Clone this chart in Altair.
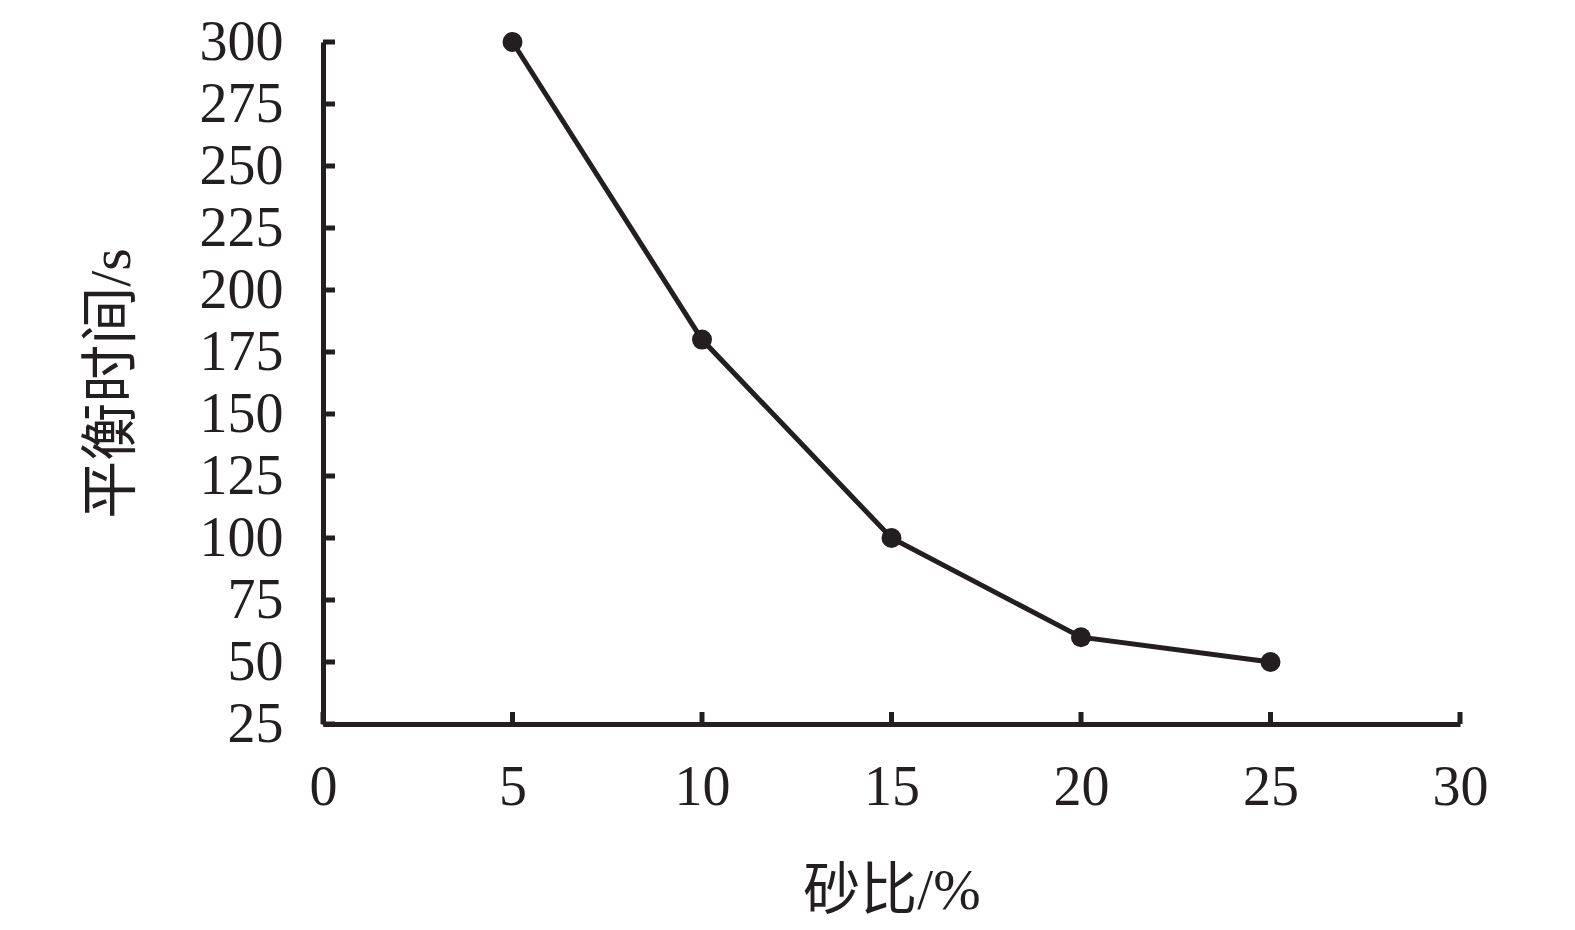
import altair as alt
import pandas as pd

sand_ratio = [5, 10, 15, 20, 25]
balance_time = [300, 180, 100, 60, 50]
x_ticks = [0, 5, 10, 15, 20, 25, 30]
y_ticks = [25, 50, 75, 100, 125, 150, 175, 200, 225, 250, 275, 300]

INK = "#231f20"
W, H = 1137, 682
FONT = "Liberation Serif, Noto Sans CJK SC"

df = pd.DataFrame({"x": sand_ratio, "y": balance_time})
xt = pd.DataFrame({"x": x_ticks})
yt = pd.DataFrame({"y": y_ticks})

xscale = alt.Scale(domain=[0, 30], nice=False, zero=False)
yscale = alt.Scale(domain=[25, 300], nice=False, zero=False)

xaxis = alt.Axis(values=x_ticks, title="砂比/%", ticks=False, tickSize=0, grid=False,
                 labelFlush=False, domainColor=INK, domainWidth=5, labelFont=FONT,
                 labelFontSize=56, labelColor=INK, labelPadding=36, titleFont=FONT,
                 titleFontSize=57, titleFontWeight="normal", titleColor=INK, titlePadding=48)
yaxis = alt.Axis(values=y_ticks, title="平衡时间/s", ticks=False, tickSize=0, grid=False,
                 labelFlush=False, domainColor=INK, domainWidth=5, labelFont=FONT,
                 labelFontSize=56, labelColor=INK, labelPadding=40, titleFont=FONT,
                 titleFontSize=58, titleFontWeight="normal", titleColor=INK, titlePadding=58)

line = alt.Chart(df).mark_line(color=INK, strokeWidth=5).encode(
    x=alt.X("x:Q", scale=xscale, axis=xaxis),
    y=alt.Y("y:Q", scale=yscale, axis=yaxis),
)
pts = alt.Chart(df).mark_point(filled=True, color=INK, size=400, opacity=1).encode(
    x=alt.X("x:Q", scale=xscale), y=alt.Y("y:Q", scale=yscale)
)
xtick = alt.Chart(xt).mark_rule(color=INK, strokeWidth=5).encode(
    x=alt.X("x:Q", scale=xscale), y=alt.value(H), y2=alt.value(H - 12)
)
ytick = alt.Chart(yt).mark_rule(color=INK, strokeWidth=5).encode(
    y=alt.Y("y:Q", scale=yscale), x=alt.value(0), x2=alt.value(12)
)

chart = alt.layer(xtick, ytick, line, pts).properties(
    width=W, height=H,
    background="white",
    autosize=alt.AutoSizeParams(type="none"),
    padding={"left": 315, "top": 34, "right": 100, "bottom": 198},
).configure_view(strokeWidth=0, stroke=None)

chart.save("out.html", embed_options={"renderer": "svg", "actions": False})
